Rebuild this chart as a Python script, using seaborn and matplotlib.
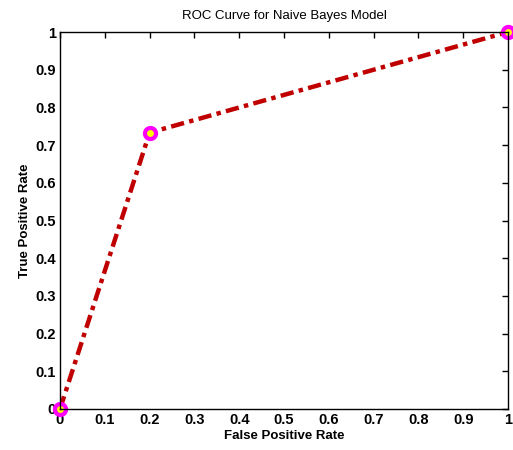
import matplotlib
matplotlib.use("Agg")
import matplotlib.pyplot as plt
import seaborn as sns
import pandas as pd

fpr = [0.0, 0.2, 1.0]
tpr = [0.0, 0.733, 1.0]
ticks = [0, 0.1, 0.2, 0.3, 0.4, 0.5, 0.6, 0.7, 0.8, 0.9, 1]
tick_labels = ["0", "0.1", "0.2", "0.3", "0.4", "0.5", "0.6", "0.7", "0.8", "0.9", "1"]

sns.set_style("white")
plt.rcParams['font.family'] = ['Liberation Sans', 'DejaVu Sans']
plt.rcParams['text.color'] = 'black'
plt.rcParams['axes.labelcolor'] = 'black'

df = pd.DataFrame({"FPR": fpr, "TPR": tpr})

fig = plt.figure(figsize=(5.13, 4.5), dpi=100)
ax = fig.add_axes([60/513, 1 - 409/450, (508-60)/513, (409-32)/450])

sns.lineplot(data=df, x="FPR", y="TPR", ax=ax, color="#c00000", linewidth=3.2,
             linestyle=(0, (3, 1.2, 1, 1.2)), marker="o", markersize=8,
             markerfacecolor="yellow", markeredgecolor="magenta", markeredgewidth=3,
             clip_on=False, estimator=None, sort=False)

ax.set_xlim(0, 1)
ax.set_ylim(0, 1)
ax.set_xticks(ticks)
ax.set_xticklabels(tick_labels, fontsize=10.5, fontweight="bold")
ax.set_yticks(ticks)
ax.set_yticklabels(tick_labels, fontsize=10.5, fontweight="bold")
ax.tick_params(direction="in", length=4, width=1, top=True, right=True, pad=3,
               colors="black", labelcolor="black")
for s in ax.spines.values():
    s.set_visible(True)
    s.set_color("black")
    s.set_linewidth(1)
ax.set_xlabel("False Positive Rate", fontsize=9.5, fontweight="bold", labelpad=2, color="black")
ax.set_ylabel("True Positive Rate", fontsize=9.5, fontweight="bold", labelpad=3, color="black")
ax.set_title("ROC Curve for Naive Bayes Model", fontsize=9.5, pad=9, color="black")

fig.savefig("out.png", dpi=100)
